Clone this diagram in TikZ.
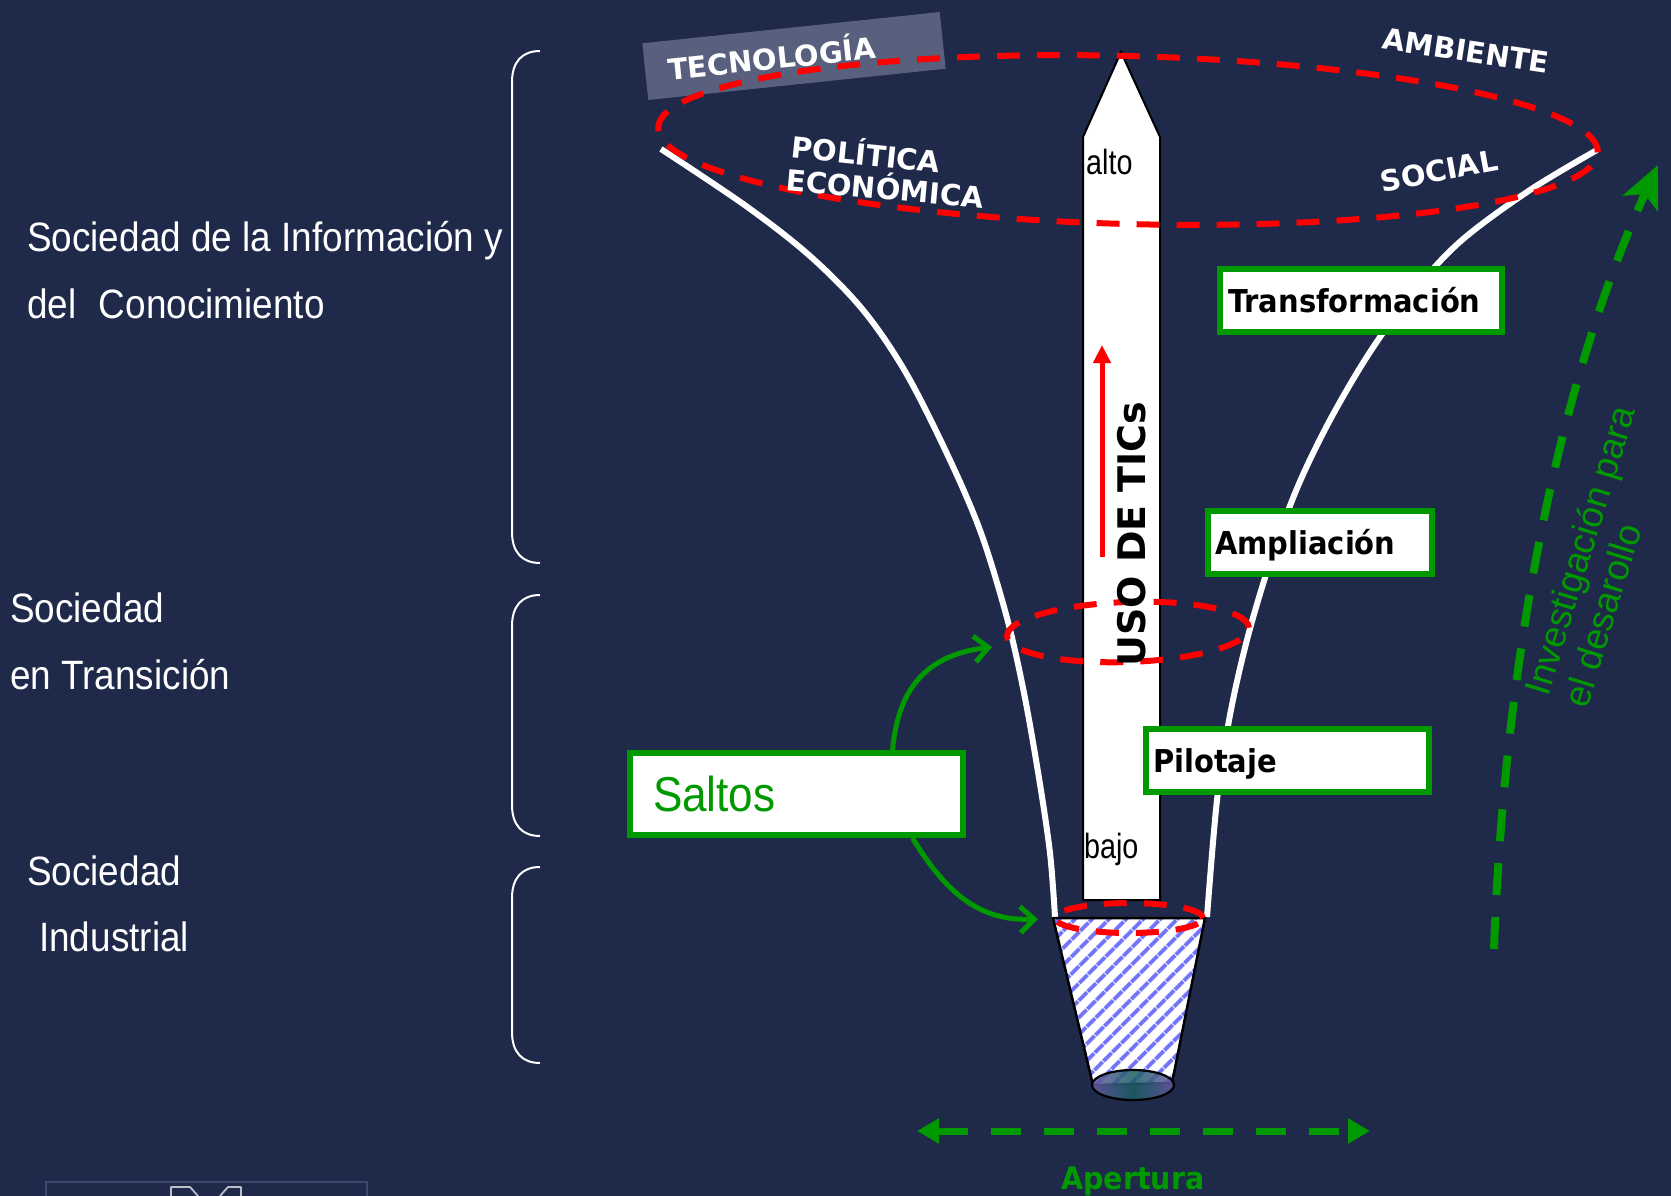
\documentclass[tikz,border=0pt]{standalone}
\usepackage{fontspec}
\setmainfont{Liberation Sans}
\newfontfamily\narrowf[FakeStretch=0.9]{Liberation Sans}
\newfontfamily\condf[FakeStretch=0.82]{Liberation Sans}
\newfontfamily\verdf{DejaVu Sans}
\newfontfamily\tahf[FakeStretch=0.92]{DejaVu Sans}
\usetikzlibrary{arrows.meta,patterns.meta}
\definecolor{bgnavy}{RGB}{31,41,74}
\definecolor{tecgray}{RGB}{88,96,126}
\definecolor{fgreen}{RGB}{0,153,0}
\definecolor{hatchblue}{RGB}{115,115,250}
\definecolor{lensteal}{RGB}{25,95,100}
\definecolor{lenspurple}{RGB}{105,90,165}
\definecolor{logoedge}{RGB}{62,72,108}
\tikzset{
  sidelabel/.style={text=white, font=\narrowf\fontsize{41pt}{48pt}\selectfont, anchor=base west, inner sep=0pt},
  arclabel/.style={text=white, font=\verdf\bfseries\fontsize{29pt}{29pt}\selectfont, inner sep=0pt, text height=21pt, text depth=0pt},
  stagebox/.style={draw=fgreen, line width=6.5pt, fill=white, minimum height=63pt, align=left,
     font=\tahf\bfseries\fontsize{31.5pt}{31.5pt}\selectfont, text height=23pt, text depth=0pt, inner ysep=0pt},
  reddash/.style={draw=red, line width=6pt, dash pattern=on 23pt off 17pt},
  funnelline/.style={draw=white, line width=6pt},
  bracketline/.style={draw=white, line width=2pt},
  greenjump/.style={draw=fgreen, line width=5pt, -{Straight Barb[length=14pt,width=26pt]}},
  arrowtext/.style={font=\condf\fontsize{35pt}{35pt}\selectfont, text=black, inner sep=0pt, anchor=base west},
  invtext/.style={text=fgreen, font=\fontsize{37pt}{42pt}\selectfont, anchor=base west, rotate=73, inner sep=0pt},
}
\begin{document}
\begin{tikzpicture}[x=1pt,y=-1pt]
\useasboundingbox (0,0) rectangle (1671,1196);
\fill[bgnavy] (0,0) rectangle (1671,1196);

% partial logo at bottom left
\draw[logoedge, line width=1.5pt] (46,1196) -- (46,1182) -- (367,1182) -- (367,1196);
\draw[white!70!bgnavy, line width=1.8pt, line join=round] (171,1196) -- (171,1187) -- (190,1187) -- (198,1196);
\draw[white!70!bgnavy, line width=1.8pt, line join=round] (220,1196) -- (228,1187) -- (241,1187) -- (241,1196);

% brackets
\draw[bracketline] (540,51) .. controls (522,51) and (512,62) .. (512,82) -- (512,532) .. controls (512,552) and (522,563) .. (540,563);
\draw[bracketline] (540,595) .. controls (522,595) and (512,606) .. (512,626) -- (512,805) .. controls (512,825) and (522,836) .. (540,836);
\draw[bracketline] (540,867) .. controls (522,867) and (512,878) .. (512,898) -- (512,1032) .. controls (512,1052) and (522,1063) .. (540,1063);

% left labels
\node[sidelabel] (sic1) at (27,251) {Sociedad de la Información y};
\node[sidelabel] (sic2) at (27,318) {del\hspace{0.55em}Conocimiento};
\node[sidelabel] (st1) at (10,622) {Sociedad};
\node[sidelabel] (st2) at (10,689) {en Transición};
\node[sidelabel] (si1) at (27,885) {Sociedad};
\node[sidelabel] (si2) at (39,951) {Industrial};

% tecnologia box
\node[fill=tecgray, minimum width=299pt, minimum height=57pt, rotate=6, inner sep=0pt] (tecbox) at (794,56) {};

% funnel
\draw[funnelline] plot[smooth, tension=0.55] coordinates {(661,149) (746,206) (810,256) (863,310) (906,373) (949,458) (981,533) (1007,618) (1024,693) (1039,778) (1050,853) (1055,917)};
\draw[funnelline] plot[smooth, tension=0.55] coordinates {(1597,150) (1530,190) (1462,240) (1415,290) (1370,352) (1330,420) (1298,486) (1272,556) (1248,636) (1230,715) (1217,800) (1207,917)};

% trapezoid neck
\fill[white] (1053,918) -- (1205,918) -- (1172,1083) -- (1093,1085) -- cycle;
\fill[pattern={Lines[angle=45,distance=13pt,line width=4.5pt]}, pattern color=hatchblue] (1053,918) -- (1205,918) -- (1172,1083) -- (1093,1085) -- cycle;
\draw[black, line width=2.5pt, line join=round] (1053,918) -- (1205,918) -- (1172,1083) -- (1093,1085) -- cycle;
\shade[left color=lenspurple, right color=lenspurple, middle color=lensteal, opacity=0.85] (1133,1085) ellipse [x radius=41pt, y radius=15pt];
\draw[black, line width=2.2pt] (1133,1085) ellipse [x radius=41pt, y radius=15pt];

% white arrow
\draw[fill=white, draw=black, line width=2pt, line join=miter] (1083,900) -- (1083,137) -- (1121,52) -- (1160,137) -- (1160,900) -- cycle;
\coordinate (redlow) at (1102,557);
\coordinate (redhigh) at (1102,345);
\draw[red, line width=5pt, -{Triangle[length=18pt,width=17pt]}] (redlow) -- (redhigh);

% red dashed ellipses
\draw[reddash, rotate around={-1.5:(1128,140)}] (1128,140) ellipse [x radius=470pt, y radius=84pt];
\draw[reddash, rotate around={2:(1128,632)}] (1128,632) ellipse [x radius=121pt, y radius=30pt];
\draw[reddash] (1129,918) ellipse [x radius=74pt, y radius=15pt];

% labels around the top
\node[arclabel, rotate=6] (tec) at (772,59) {TECNOLOGÍA};
\node[arclabel, rotate=-6] (pol) at (866,155) {POLÍTICA};
\node[arclabel, rotate=-5] (eco) at (885,189) {ECONÓMICA};
\node[arclabel, rotate=-8.5] (amb) at (1466,51) {AMBIENTE};
\node[arclabel, rotate=10.5] (soc) at (1439,171) {SOCIAL};

\node[arrowtext] (alto) at (1086,175) {alto};
\node[arrowtext] (bajo) at (1084,858) {bajo};
\node[font=\verdf\bfseries\fontsize{38pt}{38pt}\selectfont, rotate=90, inner sep=0pt, text height=27.7pt, text depth=0pt] (uso) at (1132,534) {USO DE TICs};

% stage boxes
\node[stagebox, minimum width=282pt, inner xsep=8pt, text width=266pt] (transf) at (1361,300.5) {Transformación};
\node[stagebox, minimum width=224pt, inner xsep=7pt, text width=210pt] (ampl) at (1320,542.5) {Ampliación};
\node[stagebox, minimum width=283pt, inner xsep=7pt, text width=269pt] (pilot) at (1287.5,760.5) {Pilotaje};

% saltos
\node[draw=fgreen, line width=6pt, fill=white, minimum width=333pt, minimum height=82pt, inner xsep=23pt, text width=287pt, align=left, text height=35pt, text depth=0pt, inner ysep=0pt, text=fgreen, font=\narrowf\fontsize{49pt}{49pt}\selectfont] (saltos) at (796.5,794) {Saltos};
\coordinate (jumpmid) at (992,647);
\coordinate (jumpneck) at (1038,919);
\draw[greenjump] ([xshift=96pt]saltos.north) .. controls (898,690) and (925,655) .. (jumpmid);
\draw[greenjump] ([xshift=116pt]saltos.south) .. controls (950,900) and (985,921) .. (jumpneck);

% investigacion
\coordinate (invA) at (1494,949);
\coordinate (invB) at (1658,165);
\draw[draw=fgreen, line width=8pt, dash pattern=on 32pt off 22pt, -{Stealth[length=42pt,width=38pt,inset=10pt]}] (invA) .. controls (1505,650) and (1560,380) .. (invB);
\node[invtext] (inv1) at (1548,698) {Investigación para};
\node[invtext] (inv2) at (1587,710) {el desarollo};

% apertura
\coordinate (apL) at (917,1131);
\coordinate (apR) at (1370,1131);
\draw[draw=fgreen, line width=7pt, dash pattern=on 30pt off 23pt, {Triangle[length=22pt,width=24pt]}-{Triangle[length=22pt,width=24pt]}] (apL) -- (apR);
\node[text=fgreen, font=\tahf\bfseries\fontsize{31pt}{31pt}\selectfont, anchor=base, inner sep=0pt] (apertura) at (1133,1189) {Apertura};
\end{tikzpicture}
\end{document}
